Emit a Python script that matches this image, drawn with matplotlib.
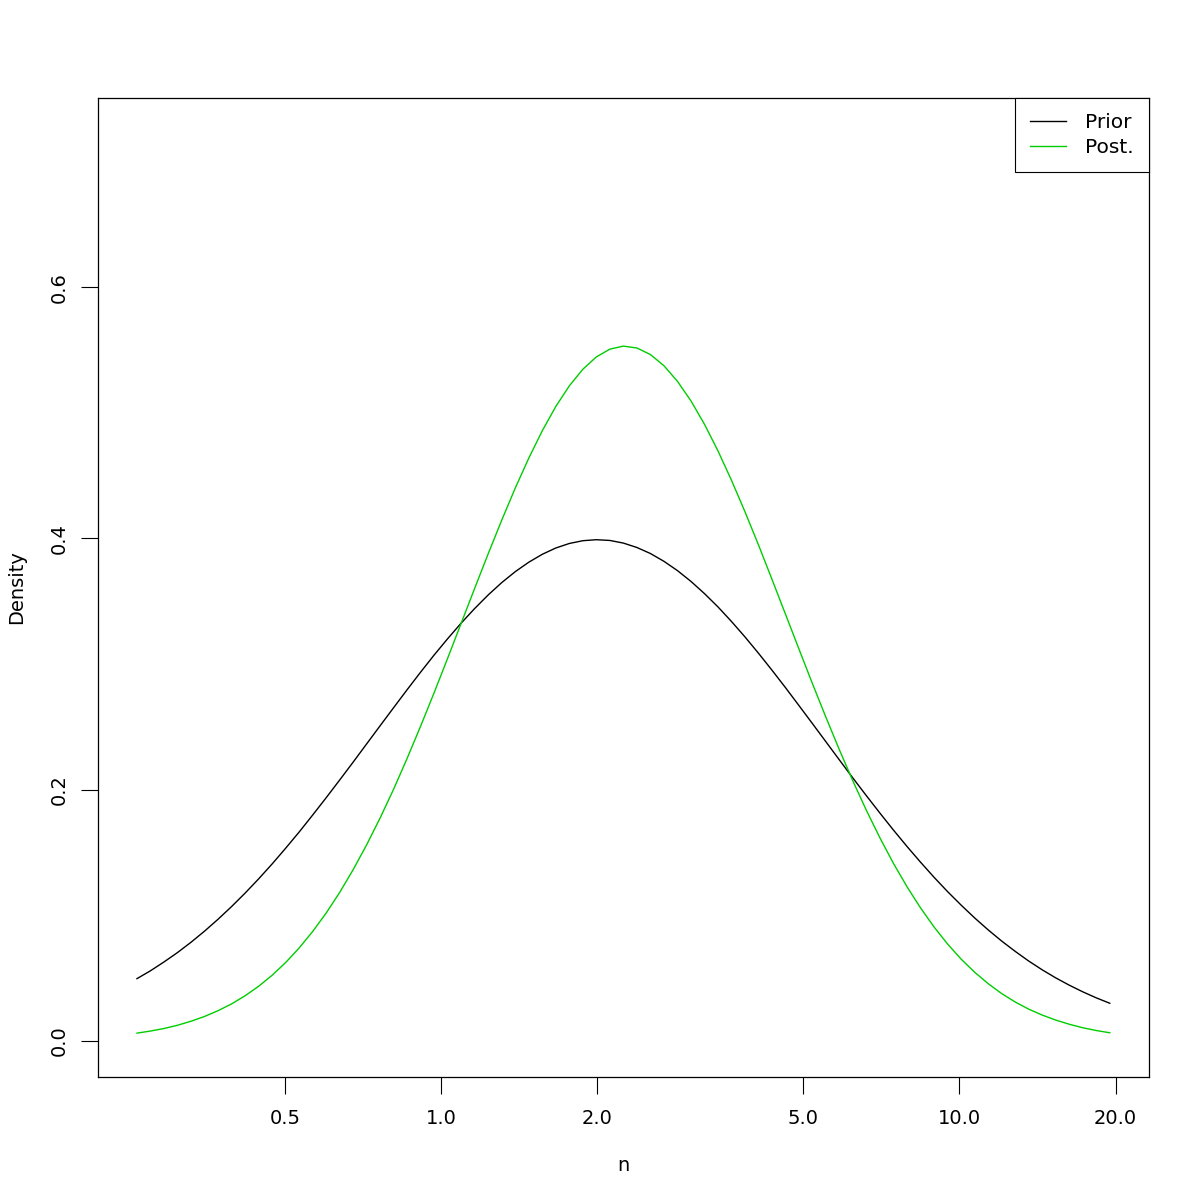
import numpy as np
import matplotlib.pyplot as plt
from matplotlib.ticker import FixedLocator, NullLocator

# === Werte ===
n_vals = [0.2592, 0.2753, 0.2923, 0.3104, 0.3296, 0.3499, 0.3716, 0.3946, 0.4190,
          0.4449, 0.4724, 0.5016, 0.5326, 0.5655, 0.6005, 0.6376, 0.6771, 0.7189,
          0.7634, 0.8106, 0.8607, 0.9139, 0.9704, 1.0305, 1.0942, 1.1618, 1.2337,
          1.3100, 1.3910, 1.4770, 1.5683, 1.6653, 1.7683, 1.8776, 1.9937, 2.1170,
          2.2479, 2.3869, 2.5345, 2.6912, 2.8577, 3.0344, 3.2220, 3.4212, 3.6328,
          3.8574, 4.0960, 4.3492, 4.6182, 4.9037, 5.2070, 5.5290, 5.8709, 6.2339,
          6.6194, 7.0287, 7.4633, 7.9248, 8.4149, 8.9352, 9.4877, 10.074, 10.697,
          11.359, 12.061, 12.807, 13.599, 14.440, 15.333, 16.281, 17.288, 18.357,
          19.492]

prior = [0.0495, 0.0558, 0.0628, 0.0703, 0.0785, 0.0873, 0.0968, 0.1069, 0.1176,
         0.1289, 0.1408, 0.1533, 0.1662, 0.1797, 0.1935, 0.2076, 0.2219, 0.2364,
         0.2509, 0.2653, 0.2796, 0.2936, 0.3072, 0.3202, 0.3326, 0.3442, 0.3550,
         0.3648, 0.3735, 0.3810, 0.3873, 0.3923, 0.3959, 0.3981, 0.3989, 0.3983,
         0.3962, 0.3927, 0.3879, 0.3817, 0.3743, 0.3657, 0.3560, 0.3454, 0.3338,
         0.3215, 0.3085, 0.2950, 0.2811, 0.2668, 0.2524, 0.2379, 0.2234, 0.2090,
         0.1949, 0.1811, 0.1676, 0.1546, 0.1421, 0.1301, 0.1187, 0.1080, 0.0978,
         0.0883, 0.0794, 0.0712, 0.0635, 0.0565, 0.0501, 0.0443, 0.0390, 0.0342,
         0.0299]

post = [0.0061, 0.0078, 0.0098, 0.0124, 0.0156, 0.0194, 0.0240, 0.0294, 0.0359,
        0.0434, 0.0522, 0.0623, 0.0739, 0.0870, 0.1017, 0.1181, 0.1363, 0.1561,
        0.1775, 0.2005, 0.2250, 0.2507, 0.2773, 0.3048, 0.3326, 0.3604, 0.3879,
        0.4146, 0.4401, 0.4639, 0.4857, 0.5050, 0.5214, 0.5346, 0.5444, 0.5506,
        0.5530, 0.5515, 0.5463, 0.5374, 0.5250, 0.5094, 0.4908, 0.4696, 0.4462,
        0.4211, 0.3947, 0.3673, 0.3395, 0.3117, 0.2841, 0.2573, 0.2313, 0.2065,
        0.1831, 0.1613, 0.1410, 0.1225, 0.1057, 0.0905, 0.0770, 0.0650, 0.0546,
        0.0455, 0.0376, 0.0309, 0.0252, 0.0205, 0.0165, 0.0132, 0.0104, 0.0082,
        0.0064]

x_ticks = [0.5, 1.0, 2.0, 5.0, 10.0, 20.0]
x_ticklabels = ["0.5", "1.0", "2.0", "5.0", "10.0", "20.0"]
y_ticks = [0.0, 0.2, 0.4, 0.6]
y_ticklabels = ["0.0", "0.2", "0.4", "0.6"]

plt.rcParams['font.family'] = ['DejaVu Sans']
fs = 14

fig = plt.figure(figsize=(12, 12), dpi=100)
ax = fig.add_axes([98/1200, 1 - 1077/1200, (1149 - 98)/1200, (1077 - 98)/1200])

ax.plot(n_vals, prior, color="black", lw=1.0, label="Prior")
ax.plot(n_vals, post, color="#00CD00", lw=1.0, label="Post.")

ax.set_xscale("log")
ax.set_xlim(0.218, 23.2)
ax.set_ylim(-0.0288, 0.7505)

ax.xaxis.set_major_locator(FixedLocator(x_ticks))
ax.xaxis.set_minor_locator(NullLocator())
ax.set_xticks(x_ticks)
ax.set_xticklabels(x_ticklabels, fontsize=fs)
ax.set_yticks(y_ticks)
ax.set_yticklabels(y_ticklabels, fontsize=fs, rotation=90, va="center")

ax.tick_params(direction="out", length=12, width=0.8)
ax.tick_params(axis="x", pad=11)
ax.tick_params(axis="y", pad=9)
for s in ax.spines.values():
    s.set_linewidth(0.9)

ax.set_xlabel("n", fontsize=fs, labelpad=20)
ax.set_ylabel("Density", fontsize=fs, labelpad=17)

leg = ax.legend(loc="upper right", bbox_to_anchor=(1, 1), borderaxespad=0,
                fancybox=False, edgecolor="black", framealpha=1, fontsize=14.5,
                handlelength=1.8, handletextpad=0.95, labelspacing=0.3,
                borderpad=0.75)
leg.get_frame().set_linewidth(0.8)

fig.savefig("out.png", dpi=100)
